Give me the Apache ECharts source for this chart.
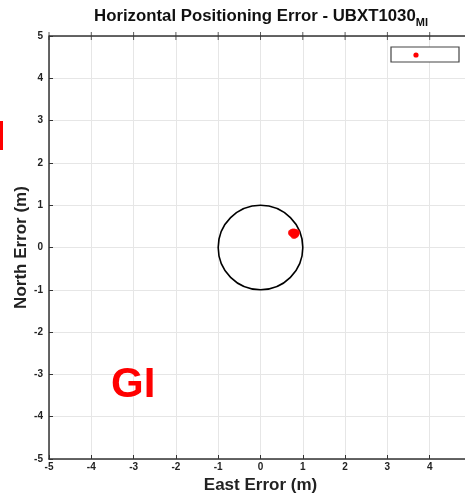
<!DOCTYPE html>
<html>
<head>
<meta charset="utf-8">
<script src="https://cdn.jsdelivr.net/npm/echarts@6/dist/echarts.min.js"></script>
<style>
html,body{margin:0;padding:0;background:#fff;}
#chart{width:465px;height:496px;}
</style>
</head>
<body>
<div id="chart"></div>
<script>
// Axis ticks (metres)
const xTicks = [-5, -4, -3, -2, -1, 0, 1, 2, 3, 4, 5];
const yTicks = [-5, -4, -3, -2, -1, 0, 1, 2, 3, 4, 5];

// Horizontal error samples: [east, north] in metres
const errorEast  = [0.72, 0.75, 0.78, 0.80, 0.83, 0.85, 0.76, 0.79, 0.82, 0.74, 0.81, 0.77, 0.84, 0.79, 0.86];
const errorNorth = [0.35, 0.37, 0.38, 0.36, 0.34, 0.33, 0.31, 0.30, 0.29, 0.33, 0.37, 0.34, 0.31, 0.27, 0.36];

// Reference circle: centre and radius (m)
const circleCenter = [0, 0];
const circleRadius = 1;

const points = errorEast.map((e, i) => [e, errorNorth[i]]);

const chart = echarts.init(document.getElementById('chart'), null, {renderer: 'canvas'});

const FONT = 'Liberation Sans, Arial, sans-serif';
const axisFont = {fontFamily: FONT, fontWeight: 'bold', fontSize: 10, color: '#222'};

chart.setOption({
  animation: false,
  backgroundColor: '#fff',
  title: {
    text: '{t|Horizontal Positioning Error - UBXT1030}{s|MI}',
    left: 256,
    textAlign: 'center',
    top: 0,
    textStyle: {
      rich: {
        t: {fontFamily: FONT, fontWeight: 'bold', fontSize: 16.8, color: '#111'},
        s: {fontFamily: FONT, fontWeight: 'bold', fontSize: 11, color: '#111', padding: [12, 0, 0, 0]}
      }
    }
  },
  grid: {left: 49, top: 36, width: 423, height: 423, show: false, outerBoundsMode: 'none', containLabel: false},
  xAxis: {
    type: 'value', min: xTicks[0], max: xTicks[xTicks.length - 1], interval: 1,
    name: 'East Error (m)', nameLocation: 'middle', nameGap: 18,
    nameTextStyle: {fontFamily: FONT, fontWeight: 'bold', fontSize: 17, color: '#222'},
    axisLine: {show: true, onZero: false, lineStyle: {color: '#333', width: 1.5}},
    axisTick: {show: true, inside: true, length: 4, lineStyle: {color: '#333'}},
    axisLabel: Object.assign({margin: 3}, axisFont),
    splitLine: {show: true, lineStyle: {color: '#e6e6e6', width: 1}}
  },
  yAxis: {
    type: 'value', min: yTicks[0], max: yTicks[yTicks.length - 1], interval: 1,
    name: 'North Error (m)', nameLocation: 'middle', nameGap: 19, nameRotate: 90,
    nameMoveOverlap: false,
    nameTextStyle: {fontFamily: FONT, fontWeight: 'bold', fontSize: 17, color: '#222'},
    axisLine: {show: true, onZero: false, lineStyle: {color: '#333', width: 1.5}},
    axisTick: {show: true, inside: true, length: 4, lineStyle: {color: '#333'}},
    axisLabel: Object.assign({margin: 6}, axisFont),
    splitLine: {show: true, lineStyle: {color: '#e6e6e6', width: 1}}
  },
  graphic: [
    // top border of the plot box
    {type: 'line', shape: {x1: 49, y1: 36, x2: 472, y2: 36}, style: {stroke: '#333', lineWidth: 1.5}, z: 10},
    // legend box
    {type: 'rect', shape: {x: 391, y: 47, width: 68, height: 15}, style: {fill: '#fff', stroke: '#444', lineWidth: 1.2}, z: 20},
    {type: 'circle', shape: {cx: 416, cy: 55, r: 2.6}, style: {fill: '#ff0000'}, z: 21},
    // annotation
    {type: 'text', left: 111, top: 364, style: {text: 'GI', fill: '#ff0000', font: 'bold 42px Liberation Sans, Arial, sans-serif'}, z: 20},
    // red mark at the left margin
    {type: 'rect', shape: {x: 0, y: 121, width: 3, height: 29}, style: {fill: '#ff0000'}, z: 20}
  ],
  series: [
    {
      type: 'custom',
      coordinateSystem: 'cartesian2d',
      data: [[circleCenter[0], circleCenter[1], circleRadius]],
      renderItem: function (params, api) {
        const c = api.coord([api.value(0), api.value(1)]);
        const s = api.size([api.value(2), api.value(2)]);
        return {
          type: 'ellipse',
          shape: {cx: c[0], cy: c[1], rx: s[0], ry: s[1]},
          style: {fill: 'none', stroke: '#000', lineWidth: 1.6}
        };
      },
      z: 5,
      silent: true
    },
    {
      type: 'scatter',
      data: points,
      symbol: 'circle',
      symbolSize: 6,
      itemStyle: {color: '#ff0000'},
      z: 6
    },
    {
      // inward ticks along the top border
      type: 'scatter',
      data: xTicks.map(v => [v, yTicks[yTicks.length - 1]]),
      symbol: 'rect',
      symbolSize: [1, 8],
      itemStyle: {color: '#333'},
      z: 11,
      silent: true
    }
  ]
});
</script>
</body>
</html>
